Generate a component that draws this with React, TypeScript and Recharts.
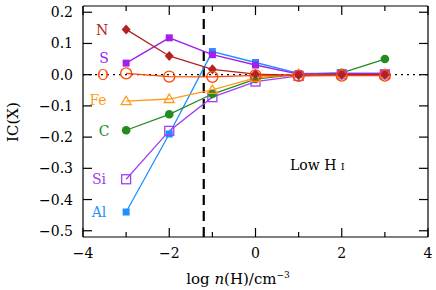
import { LineChart, Line, XAxis, YAxis, ReferenceLine } from 'recharts'

const xs = [-3, -2, -1, 0, 1, 2, 3]
const nVals = [0.145, 0.06, 0.017, 0.002, -0.002, 0.0, 0.0]
const sVals = [0.037, 0.118, 0.064, 0.031, 0.002, 0.004, 0.004]
const oVals = [0.004, -0.006, -0.007, -0.002, -0.004, -0.003, -0.003]
const feVals = [-0.085, -0.078, -0.049, -0.01, 0.002, 0.002, 0.002]
const cVals = [-0.178, -0.127, -0.062, -0.014, 0.002, 0.006, 0.05]
const siVals = [-0.335, -0.18, -0.072, -0.022, -0.004, 0.001, 0.001]
const alVals = [-0.44, -0.19, 0.074, 0.039, 0.004, 0.004, 0.004]

const xTicks = [-4, -3, -2, -1, 0, 1, 2, 3, 4]
const yTicks = [-0.5, -0.4, -0.3, -0.2, -0.1, 0, 0.1, 0.2]
const dashX = -1.2

const rows = xs.map((x, i) => ({
  x,
  N: nVals[i],
  S: sVals[i],
  O: oVals[i],
  Fe: feVals[i],
  C: cVals[i],
  Si: siVals[i],
  Al: alVals[i],
}))

const FONT = '"DejaVu Serif", serif'
const minus = (s: string) => s.replace('-', '\u2212')

const colors = {
  N: '#b22222',
  S: '#a020f0',
  O: '#ff4500',
  Fe: '#ff9a1a',
  C: '#228b22',
  Si: '#a040f0',
  Al: '#1e90ff',
}

// markers
const diamond = (color: string) => (p: any) =>
  <path key={p.index} d={`M${p.cx},${p.cy - 5}L${p.cx + 4.5},${p.cy}L${p.cx},${p.cy + 5}L${p.cx - 4.5},${p.cy}Z`} fill={color} />
const fsquare = (color: string) => (p: any) =>
  <rect key={p.index} x={p.cx - 3.5} y={p.cy - 3.5} width={7} height={7} fill={color} />
const osquare = (color: string) => (p: any) =>
  <rect key={p.index} x={p.cx - 4.5} y={p.cy - 4.5} width={9} height={9} fill="none" stroke={color} strokeWidth={1.3} />
const ocircle = (color: string) => (p: any) =>
  <circle key={p.index} cx={p.cx} cy={p.cy} r={5.5} fill="none" stroke={color} strokeWidth={1.3} />
const fcircle = (color: string) => (p: any) =>
  <circle key={p.index} cx={p.cx} cy={p.cy} r={4.3} fill={color} />
const otri = (color: string) => (p: any) =>
  <path key={p.index} d={`M${p.cx},${p.cy - 5}L${p.cx + 5},${p.cy + 3.5}L${p.cx - 5},${p.cy + 3.5}Z`} fill="none" stroke={color} strokeWidth={1.3} />

const BottomTick = (p: any) => {
  const v = p.payload.value
  const major = v % 2 === 0
  return (
    <g>
      <line x1={p.x} x2={p.x} y1={p.y} y2={p.y - (major ? 9 : 5)} stroke="#000" strokeWidth={1.2} />
      {major && (
        <text x={p.x} y={p.y + 21} textAnchor="middle" fontFamily={FONT} fontSize={14} fill="#000">
          {minus(String(v))}
        </text>
      )}
    </g>
  )
}
const TopTick = (p: any) => {
  const major = p.payload.value % 2 === 0
  return <line x1={p.x} x2={p.x} y1={p.y} y2={p.y + (major ? 9 : 5)} stroke="#000" strokeWidth={1.2} />
}
const LeftTick = (p: any) => (
  <g>
    <line x1={p.x} x2={p.x + 9} y1={p.y} y2={p.y} stroke="#000" strokeWidth={1.2} />
    <text x={p.x - 10} y={p.y} dy={5} textAnchor="end" fontFamily={FONT} fontSize={14} fill="#000">
      {minus(p.payload.value.toFixed(1))}
    </text>
  </g>
)
const RightTick = (p: any) => <line x1={p.x} x2={p.x - 9} y1={p.y} y2={p.y} stroke="#000" strokeWidth={1.2} />

const labels = [
  { t: 'N', c: colors.N, x: 102, y: 30 },
  { t: 'S', c: colors.S, x: 104, y: 58 },
  { t: 'O', c: colors.O, x: 103, y: 75 },
  { t: 'Fe', c: colors.Fe, x: 98, y: 100 },
  { t: 'C', c: colors.C, x: 104, y: 131 },
  { t: 'Si', c: colors.Si, x: 99, y: 179 },
  { t: 'Al', c: colors.Al, x: 99, y: 212 },
]

export default function App() {
  const axis = { stroke: '#000', strokeWidth: 1.2 }
  return (
    <div style={{ position: 'fixed', left: 0, top: 0, width: 436, height: 290, background: '#fff' }}>
      <LineChart width={436} height={290} data={rows} margin={{ top: 0, right: 0, bottom: 0, left: 0 }}>
        <XAxis dataKey="x" type="number" domain={[-4, 4]} ticks={xTicks} height={53} tickLine={false} tickSize={0} tickMargin={0} axisLine={axis} tick={<BottomTick />} interval={0} />
        <XAxis xAxisId="top" orientation="top" dataKey="x" type="number" domain={[-4, 4]} ticks={xTicks} height={6} tickLine={false} tickSize={0} tickMargin={0} axisLine={axis} tick={<TopTick />} interval={0} />
        <YAxis type="number" domain={[-0.52, 0.22]} ticks={yTicks} width={83} tickLine={false} tickSize={0} tickMargin={0} axisLine={axis} tick={<LeftTick />} interval={0} allowDataOverflow />
        <YAxis yAxisId="right" orientation="right" type="number" domain={[-0.52, 0.22]} ticks={yTicks} width={8} tickLine={false} tickSize={0} tickMargin={0} axisLine={axis} tick={<RightTick />} interval={0} allowDataOverflow />
        <ReferenceLine y={0} stroke="#000" strokeDasharray="2 4" strokeWidth={1.2} />
        <ReferenceLine x={dashX} stroke="#000" strokeDasharray="10 6" strokeWidth={2.2} />
        <Line dataKey="Al" stroke={colors.Al} strokeWidth={1.3} dot={fsquare(colors.Al)} isAnimationActive={false} />
        <Line dataKey="Si" stroke={colors.Si} strokeWidth={1.3} dot={osquare(colors.Si)} isAnimationActive={false} />
        <Line dataKey="C" stroke={colors.C} strokeWidth={1.3} dot={fcircle(colors.C)} isAnimationActive={false} />
        <Line dataKey="Fe" stroke={colors.Fe} strokeWidth={1.3} dot={otri(colors.Fe)} isAnimationActive={false} />
        <Line dataKey="S" stroke={colors.S} strokeWidth={1.3} dot={fsquare(colors.S)} isAnimationActive={false} />
        <Line dataKey="N" stroke={colors.N} strokeWidth={1.3} dot={diamond(colors.N)} isAnimationActive={false} />
        <Line dataKey="O" stroke={colors.O} strokeWidth={1.3} dot={ocircle(colors.O)} isAnimationActive={false} />
      </LineChart>
      <svg width={436} height={290} style={{ position: 'absolute', left: 0, top: 0, pointerEvents: 'none' }}>
        {labels.map((l) => (
          <text key={l.t} x={l.x} y={l.y} dy={5} textAnchor="middle" fontFamily={FONT} fontSize={14} fill={l.c}>
            {l.t}
          </text>
        ))}
        <text x={290} y={170} fontFamily={FONT} fontSize={14} fill="#000">
          Low H <tspan fontSize={10}>I</tspan>
        </text>
        <text x={238} y={284} textAnchor="middle" fontFamily={FONT} fontSize={15} fill="#000">
          log <tspan fontStyle="italic">n</tspan>(H)/cm<tspan fontSize={9} dy={-6}>{'\u22123'}</tspan>
        </text>
        <text x={13} y={122} transform="rotate(-90 13 122)" dy={5} textAnchor="middle" fontFamily={FONT} fontSize={15} fill="#000">
          IC(X)
        </text>
      </svg>
    </div>
  )
}
